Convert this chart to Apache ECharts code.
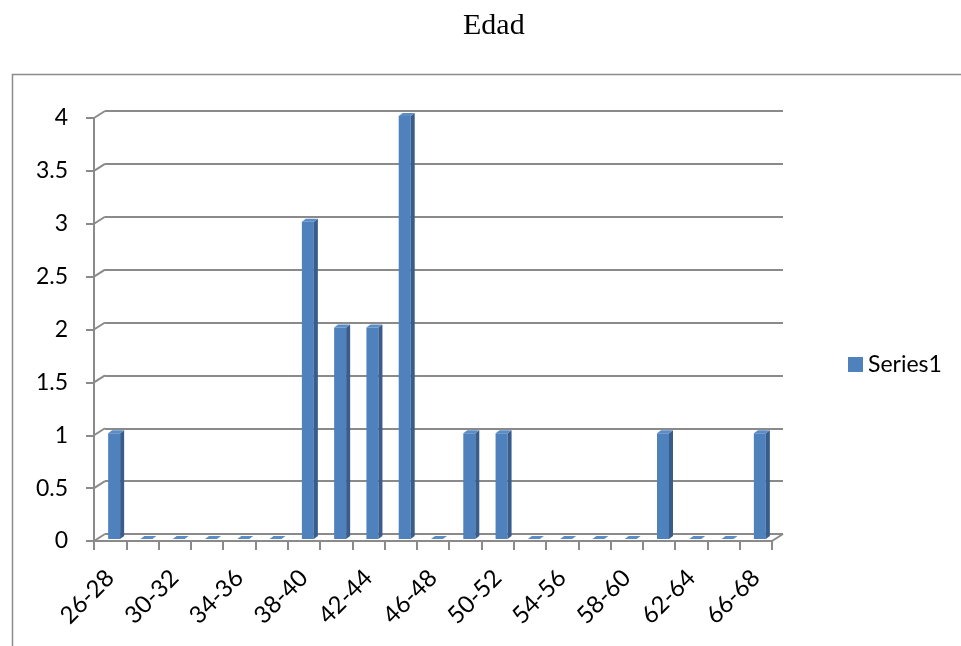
<!DOCTYPE html>
<html><head><meta charset="utf-8">
<script src="https://cdn.jsdelivr.net/npm/echarts@6/dist/echarts.min.js"></script>
<style>html,body{margin:0;padding:0;background:#fff}#c{width:961px;height:646px}</style>
</head><body><div id="c"></div>
<script>
const categories = ['26-28','28-30','30-32','32-34','34-36','36-38','38-40','40-42','42-44','44-46','46-48','48-50','50-52','52-54','54-56','56-58','58-60','60-62','62-64','64-66','66-68'];
const series1 = [1,0,0,0,0,0,3,2,2,4,0,1,1,0,0,0,0,1,0,0,1];
const yTicks = [0,0.5,1,1.5,2,2.5,3,3.5,4];

const FONT = 'Lato';
const FS = 23;
const chart = echarts.init(document.getElementById('c'));
const DX = 4, DY = 3;
chart.setOption({
  animation:false,
  graphic:[{type:'rect',left:10,top:72,silent:true,shape:{width:1000,height:640},style:{fill:'none',stroke:'#8c8c8c',lineWidth:1.5}}],
  title:{text:'Edad',left:458,top:6,textStyle:{fontFamily:'Liberation Serif',fontWeight:'normal',fontSize:30,color:'#000'}},
  legend:{left:843,top:348,itemWidth:15,itemHeight:15,itemGap:8,icon:'rect',
    textStyle:{fontFamily:FONT,fontSize:FS,color:'#000'},data:[{name:'Series1',itemStyle:{color:'#4F81BD'}}]},
  grid:[
    {left:94,right:189,top:118,bottom:105},
    {left:105,right:178,top:111,bottom:112}
  ],
  xAxis:[
    {type:'category',gridIndex:0,data:categories,boundaryGap:true,
     axisLine:{lineStyle:{color:'#8a8a8a',width:2}},
     axisTick:{show:true,length:9,interval:0,lineStyle:{color:'#8a8a8a',width:2}},
     axisLabel:{interval:1,rotate:45,margin:33,fontFamily:FONT,fontSize:24,color:'#000'}},
    {type:'category',gridIndex:1,data:categories,show:false}
  ],
  yAxis:[
    {type:'value',gridIndex:0,min:0,max:4,interval:0.5,
     axisLine:{show:true,lineStyle:{color:'#8a8a8a',width:2}},
     axisTick:{show:true,length:8,lineStyle:{color:'#8a8a8a',width:2}},
     splitLine:{show:false},
     axisLabel:{margin:26,fontFamily:FONT,fontSize:FS,color:'#000'}},
    {type:'value',gridIndex:1,min:0,max:4,interval:0.5,
     axisLine:{show:false},axisTick:{show:false},axisLabel:{show:false},
     splitLine:{show:true,lineStyle:{color:'#8a8a8a',width:2}}}
  ],
  series:[
    {type:'custom',name:'connectors',xAxisIndex:0,yAxisIndex:0,silent:true,
     data:yTicks.map(v=>[0,v]),
     renderItem:function(params,api){
       const p = api.coord([0, api.value(1)]);
       const bw = api.size([1,0])[0];
       const x = p[0]-bw/2;
       const children=[{type:'line',shape:{x1:x,y1:p[1],x2:x+11,y2:p[1]-7},style:{stroke:'#8a8a8a',lineWidth:2}}];
       if(api.value(1)===0){
         const q = api.coord([categories.length-1,0]);
         const xr = q[0]+bw/2;
         children.push({type:'line',shape:{x1:xr,y1:q[1],x2:xr+11,y2:q[1]-7},style:{stroke:'#8a8a8a',lineWidth:2}});
       }
       return {type:'group',children:children};
     }},
    {type:'custom',name:'Series1',xAxisIndex:0,yAxisIndex:0,
     itemStyle:{color:'#4F81BD'},
     data:series1.map((v,i)=>[i,v]),
     encode:{x:0,y:1},
     renderItem:function(params,api){
       const i = api.value(0), v = api.value(1);
       const base = api.coord([i,0]), top = api.coord([i,v]);
       const w = 12;
       const x0 = base[0]-w/2+4;
       const yb = base[1]-2, yt = top[1]-2;
       return {type:'group',children:[
         {type:'rect',shape:{x:x0,y:yt,width:w,height:yb-yt},style:{fill:'#4F81BD'}},
         {type:'polygon',shape:{points:[[x0+w,yt],[x0+w+DX,yt-DY],[x0+w+DX,yb-DY],[x0+w,yb]]},style:{fill:'#385D8A'}},
         {type:'polygon',shape:{points:[[x0,yt],[x0+DX,yt-DY],[x0+w+DX,yt-DY],[x0+w,yt]]},style:{fill:'#5B8CC6'}}
       ]};
     }}
  ]
});
</script></body></html>
